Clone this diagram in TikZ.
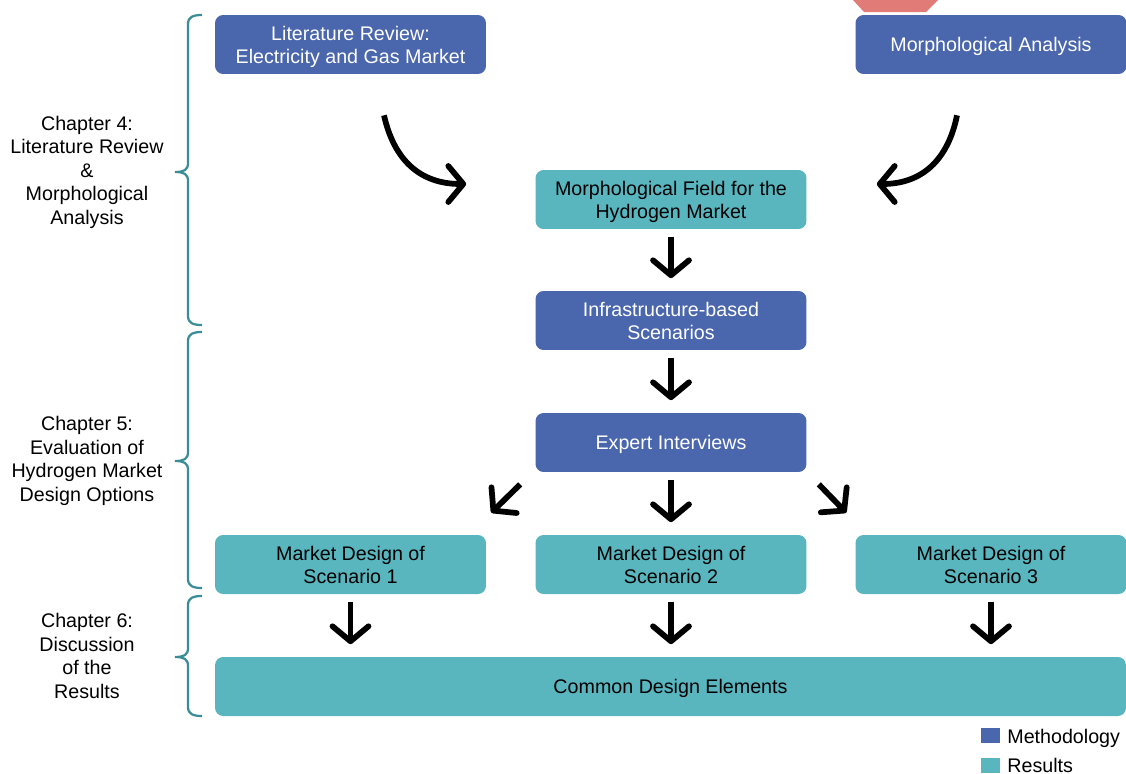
\documentclass[tikz,border=0pt]{standalone}
\usepackage{fontspec}
\setmainfont{Liberation Sans}
\usetikzlibrary{arrows.meta}
\definecolor{mblue}{HTML}{4A66AC}
\definecolor{mteal}{HTML}{59B6BF}
\definecolor{bracec}{HTML}{3A8D96}
\definecolor{mpink}{HTML}{E07B78}
\newcommand\lwr[1]{\raisebox{-1.5pt}[\height][\depth]{\begin{tabular}{@{}c@{}}#1\end{tabular}}}
\begin{document}
\begin{tikzpicture}[x=0.02cm,y=-0.02cm,
  txt/.style={font=\fontsize{11.2}{13.4}\selectfont},
  box/.style={txt, rounded corners=0.16cm, minimum width=5.42cm, minimum height=1.18cm, inner sep=0pt},
  meth/.style={box, fill=mblue, text=white},
  res/.style={box, fill=mteal, text=black},
  flow/.style={line width=0.115cm, -{Straight Barb[length=0.3cm,width=0.72cm,round]}},
  vflow/.style={flow, shorten <=0.15cm, shorten >=0.25cm},
  brc/.style={draw=bracec, line width=0.045cm},
  chap/.style={txt, align=center, inner sep=0pt}]
\useasboundingbox (0,0) rectangle (1126,774);

% pink partial shape
\fill[mpink] (853,0) -- (938,0) -- (926,12) -- (864,12) -- cycle;

% boxes
\node[meth] (lit) at (350.5,44.5) {\lwr{Literature Review:\\Electricity and Gas Market}};
\node[meth] (morph) at (991,44.5) {\lwr{Morphological Analysis}};
\node[res] (field) at (671,199.5) {\lwr{Morphological Field for the\\Hydrogen Market}};
\node[meth] (infra) at (671,320.5) {\lwr{Infrastructure-based\\Scenarios}};
\node[meth] (expert) at (671,442.5) {\lwr{Expert Interviews}};
\node[res] (md1) at (350.5,564.5) {\lwr{Market Design of\\Scenario 1}};
\node[res] (md2) at (671,564.5) {\lwr{Market Design of\\Scenario 2}};
\node[res] (md3) at (991,564.5) {\lwr{Market Design of\\Scenario 3}};
\node[res, minimum width=18.22cm] (common) at (670.5,686.5) {\lwr{Common Design Elements}};

% curved arrows
\draw[flow] ([shift={(33.5,41)}]lit.south) .. controls (394,160) and (420,184) .. ([shift={(-69,-15.5)}]field.west);
\draw[flow] ([shift={(-34,41)}]morph.south) .. controls (948,160) and (922,184) .. ([shift={(70,-15.5)}]field.east);

% vertical arrows
\draw[vflow] (field.south) -- (infra.north);
\draw[vflow] (infra.south) -- (expert.north);
\draw[vflow] (expert.south) -- (md2.north);
\draw[vflow] (md1.south) -- (md1.south |- common.north);
\draw[vflow] (md2.south) -- (md2.south |- common.north);
\draw[vflow] (md3.south) -- (md3.south |- common.north);

% diagonal arrows
\draw[flow] ([shift={(-15,12)}]expert.south west) -- ([shift={(5,-22)}]md1.north east);
\draw[flow] ([shift={(12,12)}]expert.south east) -- ([shift={(-9,-22)}]md3.north west);

% braces
\draw[brc] (202,15) .. controls (193,15) and (188,17) .. (188,24) -- (188,163)
  .. controls (188,170) and (184,172) .. (175,172) .. controls (184,172) and (188,174) .. (188,181)
  -- (188,316) .. controls (188,323) and (193,325) .. (202,325);
\draw[brc] (202,332) .. controls (193,332) and (188,334) .. (188,341) -- (188,452)
  .. controls (188,459) and (184,461) .. (175,461) .. controls (184,461) and (188,463) .. (188,470)
  -- (188,579) .. controls (188,586) and (193,588) .. (202,588);
\draw[brc] (202,596) .. controls (193,596) and (188,598) .. (188,605) -- (188,648)
  .. controls (188,655) and (184,657) .. (175,657) .. controls (184,657) and (188,659) .. (188,666)
  -- (188,707) .. controls (188,714) and (193,716) .. (202,716);

% chapter labels
\node[chap] (ch4) at (87,172) {Chapter 4:\\Literature Review\\\&\\Morphological\\Analysis};
\node[chap] (ch5) at (87,461) {Chapter 5:\\Evaluation of\\Hydrogen Market\\Design Options};
\node[chap] (ch6) at (87,656) {Chapter 6:\\Discussion\\of the\\Results};

% legend
\fill[mblue] (981,728) rectangle (1000,743);
\fill[mteal] (981,758) rectangle (1000,773);
\node[txt, anchor=base west, inner sep=0pt] (legm) at (1007,743) {Methodology};
\node[txt, anchor=base west, inner sep=0pt] (legr) at (1007,772) {Results};
\end{tikzpicture}
\end{document}
